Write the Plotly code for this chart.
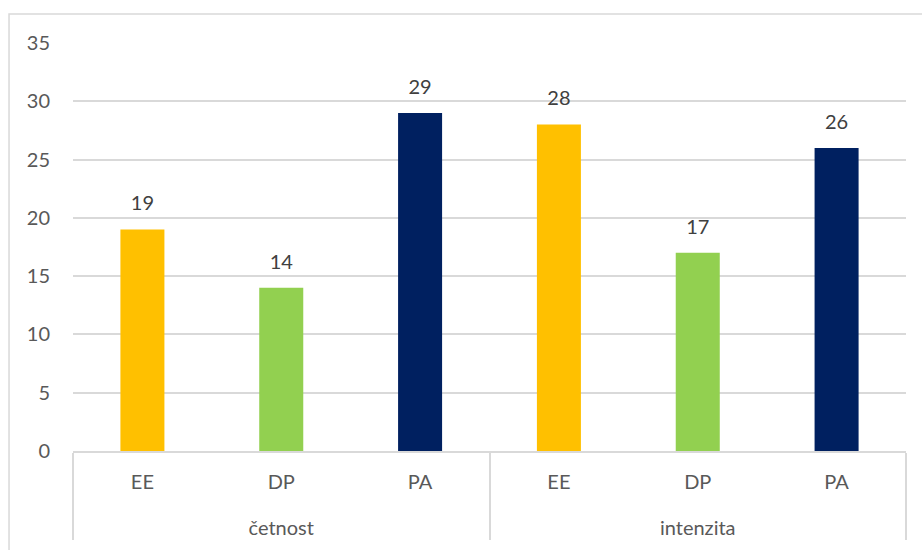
import plotly.graph_objects as go

groups = ["četnost", "četnost", "četnost", "intenzita", "intenzita", "intenzita"]
subcats = ["EE", "DP", "PA", "EE", "DP", "PA"]
values = [19, 14, 29, 28, 17, 26]
colors = ["#FFC000", "#92D050", "#002060", "#FFC000", "#92D050", "#002060"]
yticks = [0, 5, 10, 15, 20, 25, 30, 35]

FONT = "Lato"
GRAY = "#595959"
LINE = "#d9d9d9"
FS = 20

# sub-category labels padded with an empty line to push the group row down
sub_labels = [s + "<br><span style='font-size:46px'> </span>" for s in subcats]
xcats = [groups, sub_labels]

fig = go.Figure()
fig.add_trace(go.Bar(
    x=xcats,
    y=values,
    marker=dict(color=colors, line=dict(width=0)),
    width=0.317,
    hoverinfo="skip",
))
fig.add_trace(go.Scatter(
    x=xcats,
    y=values,
    mode="markers+text",
    marker=dict(size=21, opacity=0),
    text=[str(v) for v in values],
    textposition="top center",
    textfont=dict(family=FONT, size=FS, color="#404040"),
    cliponaxis=False,
    hoverinfo="skip",
))

fig.update_layout(
    width=922, height=550,
    margin=dict(l=73, r=16, t=43, b=99),
    paper_bgcolor="white", plot_bgcolor="white",
    showlegend=False,
    font=dict(family=FONT, size=FS, color=GRAY),
    xaxis=dict(
        type="multicategory",
        showline=True, linecolor=LINE, linewidth=1.5,
        showdividers=True, dividercolor=LINE, dividerwidth=1.5,
        ticks="", showgrid=False,
        ticklabelstandoff=12,
        tickfont=dict(family=FONT, size=FS, color=GRAY),
    ),
    yaxis=dict(
        range=[0, 35], tickvals=yticks,
        showgrid=True, gridcolor=LINE, gridwidth=1.5,
        zeroline=False, showline=False, ticks="",
        ticklabelstandoff=22,
        tickfont=dict(family=FONT, size=FS, color=GRAY),
    ),
    shapes=[dict(
        type="rect", xref="paper", yref="paper",
        x0=-0.0768, x1=1.1, y0=-0.3, y1=1.071,
        line=dict(color=LINE, width=1.5), fillcolor="rgba(0,0,0,0)", layer="below",
    )],
)

fig.write_html("out.html")
